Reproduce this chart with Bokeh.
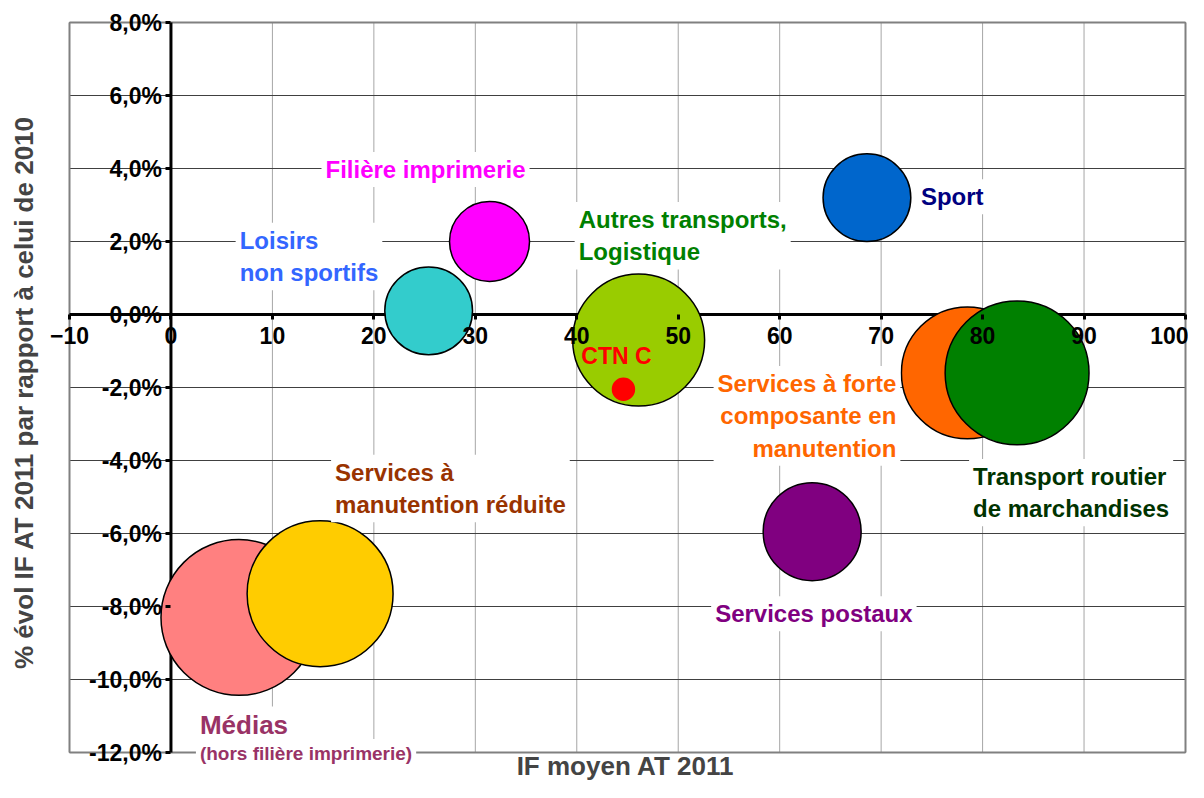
import math
from bokeh.plotting import figure
from bokeh.models import (Range1d, FixedTicker, CustomJSTickFormatter, Label,
                          ColumnDataSource)
from bokeh.embed import file_html
from bokeh.resources import INLINE

# ---------------- data ----------------
categories = ["Médias (hors filière imprimerie)", "Services à manutention réduite",
              "Loisirs non sportifs", "Filière imprimerie", "Autres transports, Logistique",
              "CTN C", "Sport", "Services à forte composante en manutention",
              "Transport routier de marchandises", "Services postaux"]
if_moyen = [6.7, 14.7, 25.4, 31.4, 46.1, 44.6, 68.6, 78.5, 83.4, 63.2]
evol_pct = [-8.3, -7.65, 0.1, 2.0, -0.7, -2.05, 3.2, -1.6, -1.6, -5.95]
poids = [243, 213, 77, 64, 174, 4.8, 77, 174, 207, 96]
x_ticks = [-10, 0, 10, 20, 30, 40, 50, 60, 70, 80, 90, 100]
y_ticks = [-12, -10, -8, -6, -4, -2, 0, 2, 4, 6, 8]

# ---------------- styles ----------------
fill_colors = ["#FF8080", "#FFCC00", "#33CCCC", "#FF00FF", "#99CC00",
               "#FF0000", "#0066CC", "#FF6600", "#008000", "#800080"]
line_colors = ["black"] * 10
line_colors[5] = "#FF0000"
FONT = "Liberation Sans"

W, H = 1188, 782
# plot box (pixels inside canvas)
BL, BR, BT, BB = 69, 1185, 22, 752
xmin, xmax = x_ticks[0], x_ticks[-1]
ymin, ymax = y_ticks[0], y_ticks[-1]
kx = (BR - BL) / (xmax - xmin)
ky = (BB - BT) / (ymax - ymin)
xr = Range1d(xmin - BL / kx, xmax + (W - BR) / kx)
yr = Range1d(ymin - (H - BB) / ky, ymax + BT / ky)

src = ColumnDataSource(dict(
    x=if_moyen, y=evol_pct, name=categories,
    size=[10 * math.sqrt(v) for v in poids],
    fill=fill_colors, line=line_colors))

p = figure(width=W, height=H, output_backend="svg", toolbar_location=None,
           x_range=xr, y_range=yr,
           min_border_left=0, min_border_right=0, min_border_top=0, min_border_bottom=0)
p.outline_line_color = None
p.grid.visible = False
p.background_fill_color = "white"
p.border_fill_color = "white"

# grid lines limited to the plot box
p.segment(x0=x_ticks, x1=x_ticks, y0=[ymin] * len(x_ticks), y1=[ymax] * len(x_ticks),
          line_color="#A6A6A6", line_width=1)
p.segment(x0=[xmin] * len(y_ticks), x1=[xmax] * len(y_ticks), y0=y_ticks, y1=y_ticks,
          line_color="#404040", line_width=1)
# box outline
p.segment(x0=[xmin, xmax, xmin, xmin], x1=[xmin, xmax, xmax, xmax],
          y0=[ymin, ymin, ymin, ymax], y1=[ymax, ymax, ymin, ymax],
          line_color="#808080", line_width=2)
# axis lines (under the bubbles)
p.segment(x0=[xmin, 0], x1=[xmax, 0], y0=[0, ymin], y1=[0, ymax],
          line_color="black", line_width=3)

# bubbles
p.scatter("x", "y", size="size", source=src, fill_color="fill", line_color="line",
          line_width=1.5, marker="circle")

# axes crossing at origin
for ax in (p.xaxis, p.yaxis):
    ax.fixed_location = 0
    ax.axis_line_alpha = 0
    ax.major_tick_line_color = "black"
    ax.major_tick_line_width = 3
    ax.major_tick_out = 5
    ax.major_tick_in = 0
    ax.minor_tick_line_color = None
    ax.major_label_text_font = FONT
    ax.major_label_text_font_style = "bold"
    ax.major_label_text_font_size = "23px"
    ax.major_label_text_color = "black"
p.xaxis.bounds = (xmin, xmax)
p.yaxis.bounds = (ymin, ymax)
p.xaxis.ticker = FixedTicker(ticks=x_ticks)
p.yaxis.ticker = FixedTicker(ticks=y_ticks)
p.xaxis.major_label_standoff = 7
p.yaxis.major_label_standoff = 4
p.yaxis.formatter = CustomJSTickFormatter(code="return tick.toFixed(1).replace('.', ',') + '%';")

# bubble labels: (index, text, color, align, baseline, dx, dy, size, bg)
labels = [
    (3, "Filière imprimerie", "#FF00FF", "center", "middle", -64, 72, "24px", True),
    (2, "Loisirs\nnon sportifs", "#3366FF", "left", "top", -193, 88, "24px", True),
    (4, "Autres transports,\nLogistique", "#008000", "left", "top", -64, 138, "24px", True),
    (6, "Sport", "#000080", "left", "middle", 50, 1, "24px", True),
    (5, "CTN C", "#FF0000", "center", "middle", -7, 33, "23px", False),
    (7, "Services à forte\ncomposante en\nmanutention", "#FF6600", "right", "top", -67, 7, "24px", True),
    (1, "Services à\nmanutention réduite", "#993300", "left", "top", 11, 139, "24px", True),
    (8, "Transport routier\nde marchandises", "#003300", "left", "top", -48, -86, "24px", True),
    (9, "Services postaux", "#800080", "left", "middle", -101, -82, "24px", True),
    (0, "Médias", "#993366", "left", "middle", -43, -108, "26px", True),
    (0, "(hors filière imprimerie)", "#993366", "left", "middle", -43, -136, "19px", True),
]
for i, txt, col, al, bl, dx, dy, fs, bg in labels:
    p.add_layout(Label(x=if_moyen[i], y=evol_pct[i], x_offset=dx, y_offset=dy, text=txt,
                       text_color=col, text_font=FONT, text_font_style="bold",
                       text_font_size=fs, text_align=al, text_baseline=bl,
                       text_line_height=1.2, padding=4,
                       background_fill_color="white" if bg else None))

# axis titles
p.add_layout(Label(x=625, y=2, x_units="screen", y_units="screen",
                   text="IF moyen AT 2011", text_font=FONT, text_font_style="bold",
                   text_font_size="26px", text_align="center", text_baseline="bottom"))
p.add_layout(Label(x=23, y=H - 392, x_units="screen", y_units="screen", angle=math.pi / 2,
                   text="% évol IF AT 2011 par rapport à celui de 2010", text_font=FONT,
                   text_font_style="bold", text_font_size="26px", text_align="center",
                   text_baseline="alphabetic"))

open("out.html", "w").write(file_html(p, INLINE))
